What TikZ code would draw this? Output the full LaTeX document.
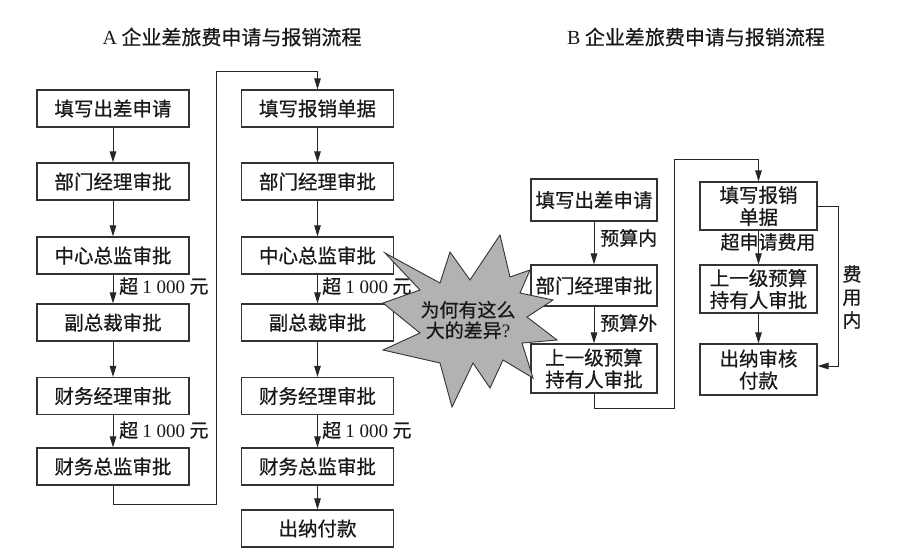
\documentclass[tikz,border=0pt]{standalone}
\usepackage{fontspec}
\setmainfont{Liberation Serif}
\newfontfamily\cjk[FakeBold=0.6]{Noto Sans CJK SC}
\usetikzlibrary{arrows.meta,calc}
\begin{document}
\begin{tikzpicture}[x=1pt,y=-1pt,
 box/.style={draw=black!80, line width=1.2pt, inner sep=0pt, align=center, font=\cjk\fontsize{19.5}{22}\selectfont, fill=white, text=black!90},
 abox/.style={box, minimum width=152, minimum height=37},
 arr/.style={draw=black!85, line width=1pt, -{Triangle[length=11pt,width=6.5pt]}},
 lbl/.style={font=\cjk\fontsize{19}{22}\selectfont, inner sep=0pt, anchor=west, text=black!90},
 ttl/.style={font=\cjk\fontsize{20}{22}\selectfont, inner sep=0pt, text=black!90},
]
\useasboundingbox[fill=white] (0,0) rectangle (912,558);

% titles
\node[ttl] (TA) at (232,37) {{\rmfamily A} 企业差旅费申请与报销流程};
\node[ttl] (TB) at (696,37) {{\rmfamily B} 企业差旅费申请与报销流程};

% A left column
\node[abox] (L1) at (113,108.5) {填写出差申请};
\node[abox] (L2) at (113,181.5) {部门经理审批};
\node[abox] (L3) at (113,255.5) {中心总监审批};
\node[abox] (L4) at (113,322.5) {副总裁审批};
\node[abox] (L5) at (113,396) {财务经理审批};
\node[abox] (L6) at (113,466.5) {财务总监审批};

% A right column
\node[abox] (R1) at (317.5,108.5) {填写报销单据};
\node[abox] (R2) at (317.5,181.5) {部门经理审批};
\node[abox] (R3) at (317.5,255.5) {中心总监审批};
\node[abox] (R4) at (317.5,322.5) {副总裁审批};
\node[abox] (R5) at (317.5,396) {财务经理审批};
\node[abox] (R6) at (317.5,466.5) {财务总监审批};
\node[abox] (R7) at (317.5,528.5) {出纳付款};

\foreach \a/\b in {L1/L2,L2/L3,L3/L4,L4/L5,L5/L6,R1/R2,R2/R3,R3/R4,R4/R5,R5/R6,R6/R7}
  \draw[arr] (\a.south) -- (\b.north);

\node[lbl] (x1) at (119,286) {超 {\rmfamily 1 000} 元};
\node[lbl] (x2) at (119,430) {超 {\rmfamily 1 000} 元};
\node[lbl] (x3) at (322,286) {超 {\rmfamily 1 000} 元};
\node[lbl] (x4) at (322,430) {超 {\rmfamily 1 000} 元};

\coordinate (a1) at (216,504);
\coordinate (a2) at (216,71);
\draw[arr] (L6.south) |- (a1) -- (a2) -| (R1.north);

% B left column
\node[box, minimum width=126, minimum height=42] (B1) at (594,200) {填写出差申请};
\node[box, minimum width=126, minimum height=41] (B2) at (594,285.5) {部门经理审批};
\node[box, minimum width=126, minimum height=49] (B3) at (594,368.5) {上一级预算\\持有人审批};
\draw[arr] (B1.south) -- (B2.north);
\draw[arr] (B2.south) -- (B3.north);
\node[lbl] (y1) at (600,238) {预算内};
\node[lbl] (y2) at (600,323) {预算外};

% B right column
\node[box, minimum width=117, minimum height=48] (B4) at (758.5,206) {填写报销\\单据};
\node[box, minimum width=117, minimum height=48] (B5) at (758.5,289) {上一级预算\\持有人审批};
\node[box, minimum width=117, minimum height=51] (B6) at (758.5,369.5) {出纳审核\\付款};
\draw[arr] (B4.south) -- (B5.north);
\draw[arr] (B5.south) -- (B6.north);
\node[lbl, anchor=center] (y3) at (768,242) {超申请费用};

\coordinate (b1) at (674,408);
\coordinate (b2) at (674,159);
\draw[arr] (B3.south) |- (b1) -- (b2) -| (B4.north);

\coordinate (c1) at (838,366);
\draw[arr] (B4.east) -| (c1) -- (B6.east |- c1);
\node[lbl, anchor=center, align=center, font=\cjk\fontsize{19}{23}\selectfont] (y4) at (852,297) {费\\用\\内};

% starburst
\filldraw[fill=black!30, draw=black!80, line width=0.9pt, line join=miter]
 (385,253) -- (440,283) -- (450,252) -- (470,280) -- (500,235) -- (510,277)
 -- (530,270) -- (520,293) -- (553,300) -- (527,317) -- (557,340) -- (522,343)
 -- (533,378) -- (503,360) -- (490,388) -- (473,363) -- (452,407) -- (440,363)
 -- (383,350) -- (420,333) -- (383,303) -- (420,290) -- cycle;
\node[font=\cjk\fontsize{19}{20.5}\selectfont, align=center, inner sep=0pt, text=black!90] (Q) at (468,320) {为何有这么\\大的差异{\rmfamily ?}};
\end{tikzpicture}
\end{document}
